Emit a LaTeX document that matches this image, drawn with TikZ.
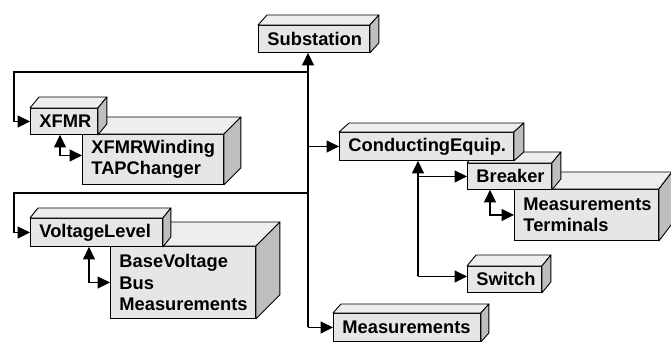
\documentclass[tikz,border=0pt]{standalone}
\usepackage{fontspec}
\setmainfont{Liberation Sans}
\usetikzlibrary{arrows.meta}

\definecolor{facefront}{RGB}{230,230,230}
\definecolor{facetop}{RGB}{238,238,238}
\definecolor{faceside}{RGB}{190,190,190}

\tikzset{
  box/.style={draw=black, line width=0.9pt, fill=facefront, anchor=north west,
    inner xsep=9pt, inner ysep=0pt, align=left,
    font=\fontsize{18.3}{21.5}\selectfont\bfseries},
  face/.style={draw=black, line width=0.9pt, line join=round},
  tip/.tip={Triangle[length=12.5pt,width=12pt]},
  link/.style={line width=1.3pt, -tip},
  dlink/.style={line width=1.3pt, tip-tip},
}

% 3-D block: name, x, y, width, height, depth x, depth y, text
\newcommand\block[8]{%
  \node[box, text width=#4pt-18pt, minimum height=#5pt] (#1) at (#2,#3) {#8};
  \filldraw[face, fill=facetop] (#1.north west) -- ([shift={(#6,-#7)}]#1.north west)
    -- ([shift={(#6,-#7)}]#1.north east) -- (#1.north east) -- cycle;
  \filldraw[face, fill=faceside] (#1.north east) -- ([shift={(#6,-#7)}]#1.north east)
    -- ([shift={(#6,-#7)}]#1.south east) -- (#1.south east) -- cycle;
}

\begin{document}
\begin{tikzpicture}[x=1pt, y=-1pt]
  \useasboundingbox (0,0) rectangle (671,341);

  % blocks, back to front
  \block{sub}{258}{25}{111}{27}{9}{10}{Substation}
  \block{xwind}{82}{134}{141}{50}{17}{17}{XFMRWinding\\TAPChanger}
  \block{xfmr}{30}{108}{67}{26}{9}{11}{XFMR}
  \block{base}{110}{246}{145}{72}{24}{24}{BaseVoltage\\Bus\\Measurements}
  \block{volt}{30}{218}{132}{28}{8}{10}{VoltageLevel}
  \block{mterm}{514}{189}{144}{51}{13}{17}{Measurements\\Terminals}
  \block{brk}{467}{163}{84}{26}{9}{11}{Breaker}
  \block{cond}{339}{132}{174}{28}{10}{9}{ConductingEquip.}
  \block{sw}{467}{266}{74}{26}{9}{11}{Switch}
  \block{meas}{333}{313}{147}{28}{8}{9}{Measurements}

  % guide positions for the vertical runs
  \coordinate (trunk) at (308,0);
  \coordinate (xturn) at (14,72);
  \coordinate (vturn) at (14,193);
  \coordinate (xdrop) at (60,0);
  \coordinate (vdrop) at (89,0);
  \coordinate (cdrop) at (418,0);
  \coordinate (bdrop) at (490,0);
  \coordinate (swin) at ([yshift=3pt]sw.west);

  % main trunk
  \draw[link] (trunk |- meas.west) -- (trunk |- sub.south);
  \draw[link] (trunk |- meas.west) -- (meas.west);
  \draw[link] (trunk |- cond.west) -- (cond.west);
  \draw[link] (trunk |- xturn) -- (xturn) |- (xfmr.west);
  \draw[link] (trunk |- vturn) -- (vturn) |- (volt.west);

  % containment links
  \draw[dlink] (xdrop |- xfmr.south) |- ([yshift=4pt]xwind.west);
  \draw[dlink] (vdrop |- volt.south) |- (base.west);
  \draw[dlink] (bdrop |- brk.south) |- (mterm.west);

  % conducting equipment branches
  \draw[link] (cdrop |- swin) -- (cdrop |- cond.south);
  \draw[link] (cdrop |- swin) -- (swin);
  \draw[link] (cdrop |- brk.west) -- (brk.west);
\end{tikzpicture}
\end{document}
